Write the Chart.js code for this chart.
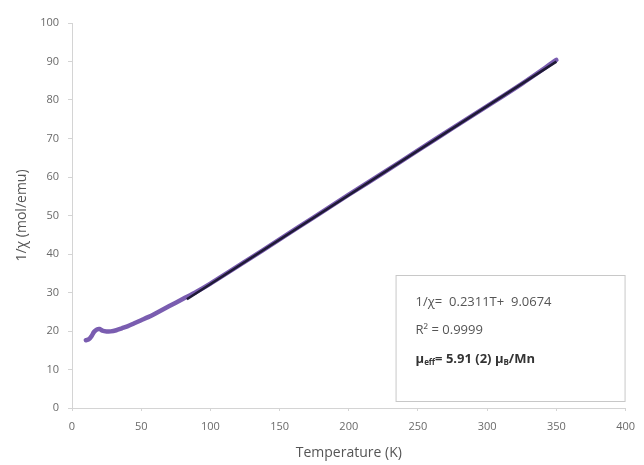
<!DOCTYPE html>
<html>
<head>
<meta charset="utf-8">
<script src="https://cdn.jsdelivr.net/npm/chart.js@4/dist/chart.umd.min.js"></script>
<style>
  html, body { margin: 0; padding: 0; background: #fff; }
  #wrap { width: 644px; height: 465px; }
</style>
</head>
<body>
<div id="wrap"><canvas id="chiPlot"></canvas></div>
<script>
// Inverse susceptibility vs temperature
const temps = [10, 12, 14, 16, 18, 20, 22, 25, 28, 32, 36, 40, 45, 50, 55, 60, 70, 80, 90, 100,
  125, 150, 175, 200, 225, 250, 275, 300, 325, 350];
const invChi = [17.6, 17.8, 18.6, 19.8, 20.4, 20.5, 20.1, 19.9, 19.9, 20.2, 20.7, 21.2, 22.0, 22.8, 23.6, 24.5, 26.4, 28.3, 30.2, 32.3,
  38.0, 43.8, 49.6, 55.4, 61.1, 66.9, 72.7, 78.4, 84.2, 90.4];

// Curie-Weiss fit 1/chi = a*T + b over the linear region
const fitSlope = 0.2311;
const fitIntercept = 9.0674;
const fitRange = [83, 350];

const xTicks = [0, 50, 100, 150, 200, 250, 300, 350, 400];
const yTicks = [0, 10, 20, 30, 40, 50, 60, 70, 80, 90, 100];

const FONT = '"Open Sans", "DejaVu Sans", sans-serif';

const dataPoints = temps.map((t, i) => ({ x: t, y: invChi[i] }));
const fitPoints = fitRange.map((t) => ({ x: t, y: fitSlope * t + fitIntercept }));

// Text box with fit parameters, bottom right of the plot
const fitBox = {
  id: 'fitBox',
  afterDraw(chart) {
    const { ctx, chartArea } = chart;
    const right = chartArea.right;
    const left = right - 230;
    const top = chartArea.bottom - 133;
    const bottom = chartArea.bottom - 6;
    ctx.save();
    ctx.fillStyle = '#fff';
    ctx.fillRect(left, top, right - left, bottom - top);
    ctx.strokeStyle = '#c8c8c8';
    ctx.lineWidth = 1;
    ctx.strokeRect(left + 0.5, top + 0.5, right - left - 1, bottom - top - 1);

    const x0 = left + 20;
    ctx.textBaseline = 'middle';
    ctx.fillStyle = '#555';
    ctx.font = `13px ${FONT}`;
    ctx.fillText('1/χ=  0.2311T+  9.0674', x0, top + 27);
    ctx.fillText('R² = 0.9999', x0, top + 55);

    // bold line with subscripts
    let x = x0;
    const y = top + 84;
    ctx.fillStyle = '#333';
    const part = (txt, size, dy) => {
      ctx.font = `bold ${size}px ${FONT}`;
      ctx.fillText(txt, x, y + dy);
      x += ctx.measureText(txt).width;
    };
    part('μ', 13, 0);
    part('eff', 8, 4);
    part('= 5.91 (2) μ', 13, 0);
    part('B', 8, 4);
    part('/Mn', 13, 0);
    ctx.restore();
  }
};

new Chart(document.getElementById('chiPlot'), {
  type: 'scatter',
  data: {
    datasets: [
      {
        label: 'data',
        data: dataPoints,
        showLine: true,
        borderColor: '#7a5db0',
        borderWidth: 4.5,
        pointRadius: 0,
        tension: 0.3,
        borderCapStyle: 'round',
        borderJoinStyle: 'round',
        order: 2
      },
      {
        label: 'fit',
        data: fitPoints,
        showLine: true,
        borderColor: '#1f1a36',
        borderWidth: 2.6,
        pointRadius: 0,
        order: 1
      }
    ]
  },
  options: {
    responsive: true,
    maintainAspectRatio: false,
    animation: false,
    layout: { padding: { top: 23, right: 17, bottom: 0, left: 10 } },
    plugins: {
      legend: { display: false },
      tooltip: { enabled: false }
    },
    scales: {
      x: {
        type: 'linear',
        min: 0,
        max: 400,
        afterBuildTicks: (scale) => { scale.ticks = xTicks.map((v) => ({ value: v })); },
        afterFit: (scale) => { scale.height = 57; },
        border: { color: '#d4d4d4', width: 1 },
        grid: { drawOnChartArea: false, color: '#d4d4d4', tickLength: 3 },
        ticks: { color: '#6a6a6a', font: { family: FONT, size: 11 }, padding: 9, maxRotation: 0 },
        title: {
          display: true,
          text: 'Temperature (K)',
          color: '#555',
          font: { family: FONT, size: 14 },
          padding: { top: 2 }
        }
      },
      y: {
        type: 'linear',
        min: 0,
        max: 100,
        afterBuildTicks: (scale) => { scale.ticks = yTicks.map((v) => ({ value: v })); },
        afterFit: (scale) => { scale.width = 62; },
        border: { color: '#d4d4d4', width: 1 },
        grid: { drawOnChartArea: false, color: '#d4d4d4', tickLength: 4 },
        ticks: { color: '#6a6a6a', font: { family: FONT, size: 11 }, padding: 9 },
        title: {
          display: true,
          text: '1/χ (mol/emu)',
          color: '#555',
          font: { family: FONT, size: 14 },
          padding: { bottom: 4 }
        }
      }
    }
  },
  plugins: [fitBox]
});
</script>
</body>
</html>
